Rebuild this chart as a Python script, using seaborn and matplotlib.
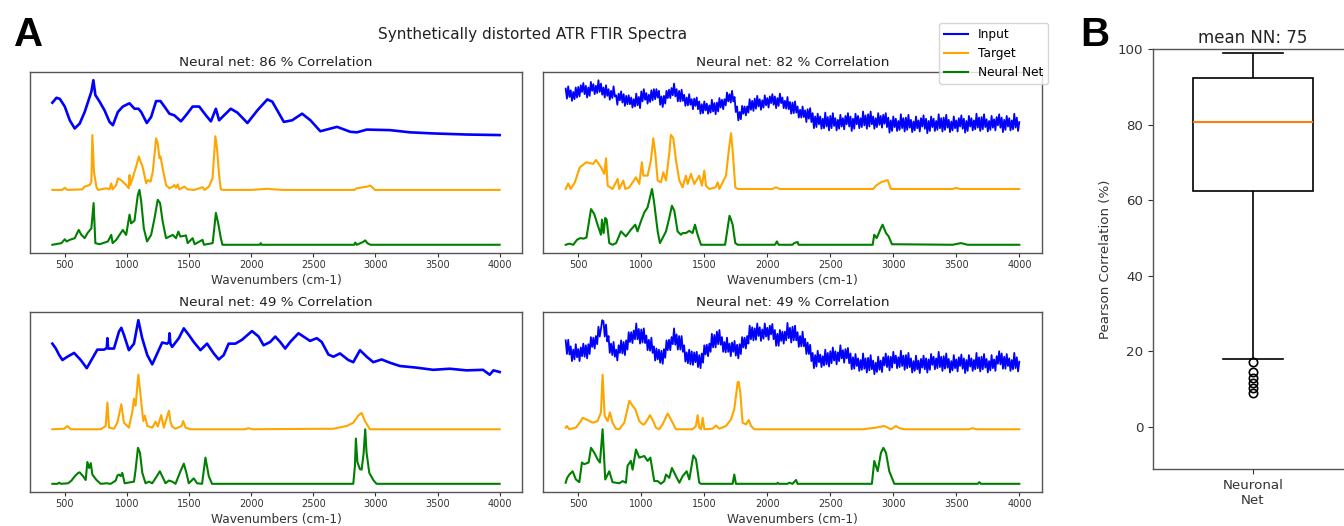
import numpy as np
import pandas as pd
import matplotlib
matplotlib.use("Agg")
import matplotlib.pyplot as plt
import seaborn as sns
from matplotlib.lines import Line2D

# ---------------- data ----------------
XTICKS = [500, 1000, 1500, 2000, 2500, 3000, 3500, 4000]
TITLES = ["Neural net: 86 % Correlation", "Neural net: 82 % Correlation",
          "Neural net: 49 % Correlation", "Neural net: 49 % Correlation"]
SERIES_NAMES = ["Input", "Target", "Neural Net"]
SERIES_COLORS = ["blue", "orange", "green"]

# sampling grid (cm-1) of the two noisy inputs
WN_GRID = list(range(400, 4001, 10))

# ---- panel 1 ----
P1_IN_X = [400, 433, 460, 500, 540, 580, 620, 660, 692, 714, 730, 746, 780, 820, 860, 887, 927, 967, 1021, 1061,
           1093, 1115, 1160, 1195, 1235, 1270, 1302, 1342, 1382, 1435, 1475, 1529, 1582, 1636, 1676, 1716, 1742, 1782, 1836, 1889,
           1970, 2050, 2130, 2170, 2263, 2330, 2410, 2477, 2557, 2691, 2798, 2851, 2931, 3118, 3279, 3466, 3733, 4000]
P1_IN_Y = [0.59, 0.68, 0.66, 0.52, 0.27, 0.12, 0.21, 0.42, 0.64, 0.79, 1.00, 0.73, 0.61, 0.45, 0.24, 0.18, 0.42, 0.52, 0.58, 0.48,
           0.48, 0.42, 0.22, 0.33, 0.62, 0.62, 0.52, 0.39, 0.36, 0.25, 0.36, 0.52, 0.52, 0.36, 0.25, 0.48, 0.27, 0.36, 0.48, 0.41,
           0.22, 0.45, 0.65, 0.61, 0.24, 0.27, 0.39, 0.27, 0.07, 0.15, 0.06, 0.05, 0.10, 0.09, 0.05, 0.03, 0.01, 0.00]
P1_TG_X = [400, 480, 500, 520, 640, 660, 700, 714, 722, 735, 754, 767, 834, 860, 874, 885, 914, 927, 954, 994,
           1015, 1021, 1028, 1050, 1061, 1074, 1096, 1109, 1123, 1141, 1155, 1168, 1190, 1208, 1222, 1235, 1248, 1262, 1270, 1288,
           1315, 1342, 1370, 1382, 1395, 1409, 1422, 1462, 1489, 1542, 1609, 1625, 1660, 1689, 1702, 1712, 1725, 1742, 1756, 1780,
           2000, 2130, 2250, 2830, 2851, 2931, 2958, 2998, 4000]
P1_TG_Y = [0.0, 0.0, 0.04, 0.0, 0.01, 0.06, 0.09, 0.15, 1.00, 0.33, 0.06, 0.0, 0.03, 0.01, 0.12, 0.01, 0.09, 0.21, 0.18, 0.09,
           0.03, 0.27, 0.09, 0.24, 0.33, 0.42, 0.61, 0.52, 0.45, 0.27, 0.12, 0.18, 0.15, 0.33, 0.64, 0.94, 0.85, 0.58, 0.61, 0.39,
           0.09, 0.03, 0.06, 0.09, 0.04, 0.10, 0.01, 0.06, 0.01, 0.0, 0.05, 0.0, 0.06, 0.21, 0.64, 0.98, 0.76, 0.27, 0.01, 0.0,
           0.0, 0.02, 0.0, 0.0, 0.03, 0.06, 0.08, 0.0, 0.0]
P1_NN_X = [400, 473, 500, 515, 540, 580, 612, 634, 660, 682, 714, 732, 746, 780, 847, 874, 885, 914, 967, 994,
           1021, 1034, 1061, 1088, 1101, 1115, 1136, 1162, 1195, 1222, 1248, 1267, 1288, 1315, 1369, 1395, 1414, 1430, 1475, 1489,
           1529, 1545, 1609, 1620, 1690, 1702, 1716, 1735, 1756, 1769, 2070, 2077, 2085, 2830, 2838, 2850, 2900, 2918, 2935, 2960, 4000]
P1_NN_Y = [0.0, 0.03, 0.10, 0.06, 0.09, 0.12, 0.27, 0.18, 0.12, 0.21, 0.30, 0.76, 0.03, 0.01, 0.06, 0.18, 0.03, 0.09, 0.27, 0.18,
           0.55, 0.39, 0.44, 0.91, 1.00, 0.79, 0.30, 0.06, 0.18, 0.48, 0.82, 0.76, 0.42, 0.12, 0.18, 0.12, 0.24, 0.15, 0.17, 0.03,
           0.12, 0.01, 0.09, 0.0, 0.03, 0.27, 0.58, 0.39, 0.12, 0.0, 0.0, 0.03, 0.0, 0.0, 0.04, 0.0, 0.05, 0.08, 0.03, 0.0, 0.0]

# ---- panel 2 (input on the 10 cm-1 grid, one row = 100 cm-1) ----
P2_IN_Y = [0.80, 0.62, 0.84, 0.65, 0.77, 0.58, 0.74, 0.61, 0.82, 0.64,
           0.83, 0.66, 0.86, 0.74, 0.90, 0.70, 0.85, 0.64, 0.82, 0.67,
           0.92, 0.76, 0.88, 0.70, 0.85, 0.72, 0.95, 0.74, 0.89, 0.69,
           0.82, 0.64, 0.86, 0.67, 0.79, 0.60, 0.76, 0.63, 0.84, 0.66,
           0.68, 0.51, 0.71, 0.59, 0.75, 0.55, 0.70, 0.49, 0.67, 0.52,
           0.68, 0.52, 0.64, 0.46, 0.61, 0.48, 0.71, 0.50, 0.65, 0.45,
           0.75, 0.57, 0.79, 0.60, 0.72, 0.53, 0.69, 0.56, 0.77, 0.59,
           0.79, 0.61, 0.79, 0.64, 0.76, 0.51, 0.66, 0.47, 0.67, 0.53,
           0.76, 0.63, 0.78, 0.63, 0.81, 0.68, 0.89, 0.66, 0.79, 0.57,
           0.76, 0.57, 0.78, 0.58, 0.69, 0.49, 0.64, 0.50, 0.70, 0.51,
           0.61, 0.43, 0.62, 0.49, 0.64, 0.43, 0.57, 0.35, 0.52, 0.36,
           0.57, 0.41, 0.53, 0.35, 0.50, 0.37, 0.60, 0.39, 0.54, 0.34,
           0.55, 0.39, 0.63, 0.46, 0.60, 0.43, 0.61, 0.50, 0.73, 0.57,
           0.70, 0.55, 0.76, 0.57, 0.65, 0.38, 0.48, 0.23, 0.38, 0.25,
           0.49, 0.35, 0.48, 0.32, 0.48, 0.37, 0.61, 0.42, 0.58, 0.40,
           0.62, 0.44, 0.67, 0.48, 0.61, 0.42, 0.59, 0.46, 0.68, 0.50,
           0.63, 0.46, 0.66, 0.54, 0.70, 0.51, 0.66, 0.45, 0.63, 0.49,
           0.71, 0.54, 0.64, 0.45, 0.58, 0.44, 0.65, 0.43, 0.56, 0.35,
           0.55, 0.36, 0.57, 0.37, 0.48, 0.28, 0.42, 0.28, 0.48, 0.29,
           0.41, 0.20, 0.43, 0.26, 0.45, 0.20, 0.36, 0.09, 0.30, 0.11,
           0.35, 0.16, 0.30, 0.08, 0.26, 0.09, 0.37, 0.12, 0.29, 0.05,
           0.31, 0.09, 0.36, 0.13, 0.27, 0.05, 0.24, 0.08, 0.33, 0.12,
           0.27, 0.07, 0.31, 0.16, 0.36, 0.12, 0.30, 0.04, 0.26, 0.08,
           0.35, 0.16, 0.31, 0.09, 0.27, 0.11, 0.39, 0.14, 0.32, 0.08,
           0.34, 0.12, 0.39, 0.16, 0.30, 0.08, 0.27, 0.11, 0.36, 0.15,
           0.31, 0.10, 0.33, 0.17, 0.36, 0.11, 0.28, 0.01, 0.23, 0.04,
           0.30, 0.11, 0.26, 0.04, 0.22, 0.06, 0.34, 0.09, 0.27, 0.03,
           0.28, 0.06, 0.33, 0.10, 0.24, 0.02, 0.21, 0.05, 0.30, 0.09,
           0.23, 0.03, 0.27, 0.12, 0.32, 0.08, 0.26, 0.00, 0.22, 0.04,
           0.30, 0.11, 0.26, 0.04, 0.22, 0.06, 0.34, 0.09, 0.27, 0.03,
           0.28, 0.06, 0.33, 0.10, 0.24, 0.02, 0.21, 0.05, 0.30, 0.09,
           0.23, 0.03, 0.27, 0.12, 0.32, 0.08, 0.26, 0.01, 0.22, 0.04,
           0.31, 0.12, 0.27, 0.05, 0.23, 0.07, 0.35, 0.10, 0.28, 0.04,
           0.29, 0.07, 0.34, 0.11, 0.25, 0.03, 0.22, 0.06, 0.31, 0.10,
           0.25, 0.05, 0.29, 0.14, 0.34, 0.10, 0.28, 0.02, 0.24, 0.06,
           0.31, 0.12, 0.27, 0.05, 0.23, 0.07, 0.35, 0.10, 0.28, 0.04,
           0.20]
P2_TG_X = [400, 420, 440, 473, 512, 565, 618, 640, 680, 706, 720, 733, 772, 812, 825, 857, 873, 905, 958, 984,
           1005, 1016, 1050, 1077, 1095, 1111, 1130, 1156, 1175, 1196, 1222, 1235, 1254, 1275, 1302, 1328, 1354, 1368, 1394, 1421,
           1460, 1481, 1500, 1513, 1540, 1590, 1606, 1620, 1672, 1698, 1712, 1725, 1746, 1765, 2040, 2069, 2100, 2840, 2862, 2902,
           2955, 2981, 3470, 3497, 3530, 4000]
P2_TG_Y = [0.0, 0.10, 0.0, 0.12, 0.39, 0.48, 0.45, 0.52, 0.39, 0.27, 0.55, 0.06, 0.0, 0.18, 0.0, 0.15, 0.0, 0.03, 0.21, 0.09,
           0.48, 0.24, 0.24, 0.52, 0.91, 0.64, 0.15, 0.12, 0.30, 0.15, 0.64, 0.97, 0.91, 0.52, 0.15, 0.03, 0.24, 0.09, 0.27, 0.09,
           0.24, 0.06, 0.33, 0.06, 0.0, 0.03, 0.12, 0.0, 0.24, 0.76, 1.00, 0.70, 0.03, 0.0, 0.0, 0.03, 0.0, 0.0, 0.06, 0.12,
           0.16, 0.0, 0.0, 0.02, 0.0, 0.0]
P2_NN_X = [400, 430, 460, 490, 516, 542, 565, 601, 627, 653, 680, 688, 701, 714, 725, 746, 772, 800, 839, 878,
           917, 952, 970, 997, 1024, 1050, 1069, 1085, 1100, 1130, 1148, 1169, 1196, 1222, 1243, 1262, 1288, 1315, 1328, 1354,
           1381, 1407, 1426, 1447, 1474, 1665, 1700, 1712, 1725, 1746, 1765, 2060, 2069, 2076, 2083, 2090, 2200, 2214, 2240, 2248,
           2836, 2849, 2868, 2902, 2915, 2942, 2963, 2989, 3470, 3537, 3590, 4000]
P2_NN_Y = [0.0, 0.02, 0.0, 0.09, 0.12, 0.11, 0.13, 0.64, 0.55, 0.36, 0.18, 0.45, 0.21, 0.48, 0.45, 0.03, 0.0, 0.03, 0.24, 0.15,
           0.27, 0.36, 0.24, 0.42, 0.58, 0.67, 0.85, 1.00, 0.79, 0.24, 0.03, 0.12, 0.24, 0.48, 0.70, 0.61, 0.24, 0.18, 0.21, 0.21,
           0.25, 0.21, 0.36, 0.18, 0.0, 0.0, 0.52, 0.45, 0.36, 0.03, 0.0, 0.0, 0.03, 0.06, 0.03, 0.0, 0.0, 0.03, 0.05, 0.0,
           0.0, 0.18, 0.12, 0.30, 0.36, 0.21, 0.15, 0.01, 0.0, 0.03, 0.0, 0.0]

# ---- panel 3 ----
P3_IN_X = [400, 428, 455, 481, 521, 575, 628, 677, 722, 762, 816, 838, 843, 849, 896, 936, 955, 976, 1016, 1057,
           1092, 1123, 1164, 1204, 1244, 1284, 1324, 1338, 1343, 1350, 1364, 1418, 1458, 1498, 1538, 1592, 1645, 1699, 1739, 1779,
           1819, 1873, 1926, 2007, 2060, 2100, 2153, 2194, 2234, 2274, 2314, 2381, 2421, 2474, 2528, 2568, 2622, 2662, 2715, 2782,
           2822, 2876, 2930, 2983, 3050, 3117, 3197, 3331, 3465, 3599, 3733, 3866, 3920, 3950, 4000]
P3_IN_Y = [0.57, 0.48, 0.36, 0.27, 0.33, 0.40, 0.27, 0.12, 0.30, 0.46, 0.46, 0.49, 0.67, 0.48, 0.48, 0.79, 0.86, 0.73, 0.45, 0.57,
           1.00, 0.67, 0.36, 0.19, 0.39, 0.59, 0.57, 0.60, 0.76, 0.57, 0.51, 0.67, 0.85, 0.73, 0.60, 0.45, 0.57, 0.39, 0.28, 0.36,
           0.57, 0.57, 0.64, 0.80, 0.70, 0.54, 0.60, 0.70, 0.60, 0.48, 0.60, 0.76, 0.70, 0.62, 0.67, 0.60, 0.37, 0.33, 0.39, 0.27,
           0.23, 0.45, 0.33, 0.23, 0.28, 0.22, 0.16, 0.13, 0.09, 0.11, 0.08, 0.09, 0.00, 0.08, 0.05]
P3_TG_X = [400, 495, 521, 548, 789, 829, 843, 856, 896, 923, 955, 976, 1016, 1043, 1057, 1070, 1092, 1110, 1132, 1145,
           1164, 1204, 1231, 1249, 1276, 1297, 1338, 1352, 1365, 1391, 1440, 1453, 1472, 1512, 1950, 1978, 2010, 2662, 2769, 2822,
           2862, 2889, 2916, 2956, 4000]
P3_TG_Y = [0.0, 0.01, 0.06, 0.0, 0.0, 0.06, 0.49, 0.03, 0.01, 0.12, 0.46, 0.12, 0.03, 0.31, 0.56, 0.43, 1.00, 0.62, 0.15, 0.25,
           0.06, 0.03, 0.14, 0.05, 0.26, 0.03, 0.34, 0.12, 0.05, 0.01, 0.06, 0.15, 0.03, 0.0, 0.0, 0.02, 0.0, 0.01, 0.06, 0.12,
           0.25, 0.30, 0.15, 0.0, 0.0]
P3_NN_X = [400, 440, 455, 470, 527, 554, 581, 608, 620, 647, 668, 682, 696, 709, 722, 755, 789, 837, 870, 910,
           923, 936, 950, 963, 982, 1057, 1070, 1089, 1105, 1124, 1150, 1177, 1204, 1244, 1265, 1284, 1311, 1338, 1365, 1391,
           1431, 1458, 1479, 1498, 1538, 1565, 1605, 1632, 1659, 1685, 2822, 2835, 2843, 2855, 2875, 2889, 2905, 2918, 2929, 2951,
           2983, 3009, 4000]
P3_NN_Y = [0.0, 0.0, 0.02, 0.0, 0.01, 0.06, 0.14, 0.20, 0.21, 0.14, 0.07, 0.40, 0.29, 0.38, 0.17, 0.07, 0.0, 0.01, 0.0, 0.06,
           0.15, 0.17, 0.14, 0.20, 0.01, 0.04, 0.26, 0.66, 0.57, 0.20, 0.01, 0.04, 0.01, 0.15, 0.23, 0.14, 0.01, 0.06, 0.04, 0.0,
           0.23, 0.37, 0.20, 0.01, 0.10, 0.01, 0.0, 0.48, 0.14, 0.0, 0.0, 0.32, 0.83, 0.40, 0.27, 0.26, 0.55, 1.00, 0.57, 0.20,
           0.07, 0.0, 0.0]

# ---- panel 4 (input on the 10 cm-1 grid, one row = 100 cm-1) ----
P4_IN_Y = [0.63, 0.38, 0.64, 0.37, 0.52, 0.25, 0.46, 0.28, 0.56, 0.32,
           0.47, 0.25, 0.50, 0.34, 0.57, 0.33, 0.54, 0.30, 0.56, 0.38,
           0.69, 0.51, 0.68, 0.48, 0.71, 0.56, 0.88, 0.70, 0.84, 1.00,
           0.98, 0.70, 0.92, 0.61, 0.71, 0.40, 0.57, 0.36, 0.60, 0.33,
           0.46, 0.26, 0.54, 0.40, 0.63, 0.39, 0.60, 0.36, 0.63, 0.46,
           0.78, 0.60, 0.78, 0.58, 0.81, 0.65, 0.94, 0.65, 0.84, 0.57,
           0.83, 0.59, 0.85, 0.58, 0.72, 0.45, 0.64, 0.44, 0.68, 0.40,
           0.52, 0.26, 0.48, 0.28, 0.46, 0.22, 0.44, 0.20, 0.47, 0.31,
           0.63, 0.45, 0.64, 0.45, 0.69, 0.56, 0.85, 0.55, 0.74, 0.46,
           0.71, 0.46, 0.71, 0.42, 0.54, 0.24, 0.41, 0.21, 0.46, 0.19,
           0.43, 0.18, 0.41, 0.23, 0.42, 0.14, 0.36, 0.12, 0.39, 0.22,
           0.54, 0.37, 0.55, 0.34, 0.57, 0.42, 0.75, 0.50, 0.73, 0.50,
           0.79, 0.56, 0.82, 0.55, 0.69, 0.42, 0.60, 0.41, 0.68, 0.42,
           0.57, 0.34, 0.59, 0.42, 0.62, 0.35, 0.55, 0.30, 0.56, 0.38,
           0.69, 0.50, 0.68, 0.48, 0.71, 0.57, 0.90, 0.65, 0.87, 0.63,
           0.85, 0.64, 0.94, 0.71, 0.87, 0.62, 0.83, 0.66, 0.94, 0.70,
           0.86, 0.64, 0.90, 0.74, 0.93, 0.65, 0.82, 0.53, 0.75, 0.53,
           0.82, 0.62, 0.79, 0.57, 0.79, 0.63, 0.95, 0.67, 0.86, 0.59,
           0.88, 0.63, 0.90, 0.63, 0.78, 0.51, 0.71, 0.52, 0.79, 0.52,
           0.66, 0.38, 0.59, 0.38, 0.55, 0.25, 0.40, 0.12, 0.36, 0.15,
           0.44, 0.23, 0.37, 0.14, 0.34, 0.17, 0.46, 0.19, 0.40, 0.15,
           0.43, 0.21, 0.50, 0.26, 0.43, 0.19, 0.41, 0.25, 0.54, 0.30,
           0.45, 0.22, 0.47, 0.30, 0.49, 0.21, 0.39, 0.10, 0.32, 0.11,
           0.38, 0.16, 0.30, 0.07, 0.27, 0.09, 0.39, 0.11, 0.30, 0.04,
           0.31, 0.08, 0.36, 0.10, 0.26, 0.01, 0.22, 0.05, 0.33, 0.09,
           0.26, 0.05, 0.32, 0.17, 0.39, 0.14, 0.34, 0.08, 0.33, 0.13,
           0.42, 0.21, 0.35, 0.12, 0.32, 0.14, 0.44, 0.16, 0.35, 0.09,
           0.36, 0.12, 0.40, 0.14, 0.30, 0.04, 0.25, 0.07, 0.35, 0.10,
           0.26, 0.03, 0.29, 0.13, 0.35, 0.10, 0.30, 0.04, 0.28, 0.09,
           0.38, 0.18, 0.33, 0.10, 0.30, 0.12, 0.42, 0.14, 0.33, 0.07,
           0.34, 0.11, 0.39, 0.13, 0.29, 0.04, 0.25, 0.08, 0.36, 0.12,
           0.28, 0.06, 0.32, 0.16, 0.37, 0.11, 0.30, 0.03, 0.27, 0.07,
           0.36, 0.15, 0.30, 0.07, 0.27, 0.10, 0.40, 0.12, 0.32, 0.06,
           0.33, 0.10, 0.38, 0.13, 0.29, 0.04, 0.25, 0.08, 0.36, 0.12,
           0.28, 0.07, 0.34, 0.20, 0.43, 0.19, 0.39, 0.11, 0.33, 0.11,
           0.38, 0.16, 0.30, 0.07, 0.27, 0.10, 0.40, 0.12, 0.32, 0.06,
           0.24]
P4_TG_X = [400, 410, 429, 481, 521, 534, 574, 614, 653, 680, 693, 709, 733, 751, 772, 799, 825, 865, 905, 931,
           952, 984, 1011, 1024, 1050, 1069, 1095, 1116, 1143, 1169, 1209, 1235, 1275, 1407, 1434, 1447, 1460, 1474, 1487, 1500,
           1566, 1593, 1619, 1672, 1712, 1738, 1765, 1773, 1786, 1804, 1831, 1852, 1871, 1897, 2757, 2862, 2929, 2981, 3021, 3048,
           3090, 3600, 3630, 3660, 4000]
P4_TG_Y = [0.03, 0.06, 0.0, 0.03, 0.15, 0.21, 0.17, 0.12, 0.15, 0.31, 1.00, 0.25, 0.15, 0.31, 0.12, 0.01, 0.0, 0.12, 0.52, 0.43,
           0.37, 0.15, 0.09, 0.09, 0.18, 0.26, 0.15, 0.03, 0.0, 0.09, 0.29, 0.18, 0.0, 0.0, 0.06, 0.26, 0.03, 0.0, 0.21, 0.0,
           0.01, 0.07, 0.01, 0.06, 0.18, 0.37, 0.86, 0.87, 0.67, 0.12, 0.09, 0.17, 0.06, 0.0, 0.0, 0.03, 0.06, 0.0, 0.06, 0.02,
           0.0, 0.0, 0.02, 0.0, 0.0]
P4_NN_X = [400, 412, 429, 455, 481, 508, 529, 547, 582, 601, 627, 653, 672, 693, 714, 746, 772, 825, 852, 878,
           891, 917, 931, 958, 984, 1024, 1050, 1072, 1103, 1130, 1156, 1182, 1196, 1222, 1243, 1275, 1302, 1328, 1360, 1381,
           1413, 1434, 1460, 1474, 1725, 1738, 1751, 2075, 2083, 2090, 2160, 2175, 2200, 2228, 2240, 2830, 2849, 2876, 2902, 2921,
           2942, 2968, 3008, 3670, 3683, 3695, 4000]
P4_NN_Y = [0.02, 0.11, 0.17, 0.23, 0.08, 0.03, 0.39, 0.36, 0.39, 0.66, 0.57, 0.45, 0.39, 1.00, 0.08, 0.23, 0.03, 0.01, 0.05, 0.02,
           0.33, 0.42, 0.26, 0.63, 0.48, 0.51, 0.42, 0.48, 0.05, 0.05, 0.0, 0.05, 0.17, 0.11, 0.29, 0.14, 0.02, 0.14, 0.23, 0.08,
           0.52, 0.45, 0.02, 0.0, 0.0, 0.17, 0.0, 0.0, 0.02, 0.0, 0.0, 0.02, 0.0, 0.07, 0.0, 0.0, 0.42, 0.23, 0.57, 0.66,
           0.57, 0.23, 0.0, 0.0, 0.03, 0.0, 0.0]

# ---- panel B: Pearson correlation of the network on the test spectra (%) ----
BOX_CATEGORY = "Neuronal\nNet"
CORR_VALUES = [9.0, 10.2, 11.6, 13.1, 14.6, 17.3, 18.0, 30.0, 45.0, 55.0,
               62.55, 66.0, 69.0, 71.0, 73.0, 75.0, 76.5, 78.0, 79.0, 80.0,
               80.7, 82.0, 83.5, 85.0, 86.0, 87.5, 88.5, 89.5, 90.5, 91.5,
               92.33, 93.0, 94.0, 94.5, 95.0, 96.0, 96.5, 97.0, 97.5, 98.0, 99.0]
MEAN_NN = 75

PANELS = [
    (P1_IN_X, P1_IN_Y, P1_TG_X, P1_TG_Y, P1_NN_X, P1_NN_Y),
    (WN_GRID, P2_IN_Y, P2_TG_X, P2_TG_Y, P2_NN_X, P2_NN_Y),
    (P3_IN_X, P3_IN_Y, P3_TG_X, P3_TG_Y, P3_NN_X, P3_NN_Y),
    (WN_GRID, P4_IN_Y, P4_TG_X, P4_TG_Y, P4_NN_X, P4_NN_Y),
]
NOISY = [False, True, False, True]

# ---------------- figure ----------------
W, H = 1344, 526
fig = plt.figure(figsize=(W / 100, H / 100), dpi=100)


def add_axes_px(left, top, right, bottom):
    return fig.add_axes([left / W, 1 - bottom / H, (right - left) / W, (bottom - top) / H])


boxes = [(30, 72, 522, 253), (543, 72, 1042, 253), (30, 312, 522, 492), (543, 312, 1042, 492)]
OFFSETS = [2.0, 1.0, 0.0]  # input on top, target middle, network bottom

for (l, t, r, b), title, panel, noisy in zip(boxes, TITLES, PANELS, NOISY):
    ax = add_axes_px(l, t, r, b)
    in_x, in_y, tg_x, tg_y, nn_x, nn_y = panel
    curves = [(in_x, in_y), (tg_x, tg_y), (nn_x, nn_y)]
    for i, ((xs, ys), off, col) in enumerate(zip(curves, OFFSETS, SERIES_COLORS)):
        lw = 1.5
        if i == 0:
            lw = 1.3 if noisy else 1.9
        sns.lineplot(x=xs, y=np.asarray(ys) + off, ax=ax, color=col, linewidth=lw,
                     estimator=None, sort=False)
    ax.set_xticks(XTICKS)
    ax.set_yticks([])
    ax.set_ylabel("")
    ax.tick_params(axis="x", labelsize=7, length=3, pad=2, colors="#333333")
    ax.set_xlabel("Wavenumbers (cm-1)", fontsize=8.7, color="#333333", labelpad=3)
    ax.set_title(title, fontsize=9.7, pad=4, color="#222222")
    for s in ax.spines.values():
        s.set_color("#555555")
        s.set_linewidth(1.0)

# legend
handles = [Line2D([], [], color=c, linewidth=1.5) for c in SERIES_COLORS]
fig.legend(handles, SERIES_NAMES, loc="upper right", bbox_to_anchor=(1048 / W, 1 - 23 / H),
           fontsize=8.7, framealpha=0.8, borderaxespad=0.0)

# suptitle and panel letters
fig.text(533 / W, 1 - 35 / H, "Synthetically distorted ATR FTIR Spectra", ha="center", va="center",
         fontsize=11, color="#222222")
fig.text(29 / W, 1 - 35 / H, "A", ha="center", va="center", fontsize=29, fontweight="bold",
         family="Liberation Sans")
fig.text(1095 / W, 1 - 35 / H, "B", ha="center", va="center", fontsize=29, fontweight="bold",
         family="Liberation Sans")

# boxplot
axb = add_axes_px(1153, 49, 1353, 469)
box_df = pd.DataFrame({"model": [BOX_CATEGORY] * len(CORR_VALUES), "corr": CORR_VALUES})
sns.boxplot(data=box_df, x="model", y="corr", ax=axb, width=0.6, color="white", linecolor="black",
            linewidth=1.2, saturation=1,
            medianprops=dict(color="#ff7f0e", linewidth=1.5),
            flierprops=dict(marker="o", markerfacecolor="none", markeredgecolor="black",
                            markersize=6, markeredgewidth=1.2))
axb.set_xlim(-0.5, 0.5)
axb.set_ylim(-11.1, 100)
axb.set_yticks([0, 20, 40, 60, 80, 100])
axb.tick_params(labelsize=9.6, colors="#333333")
axb.set_xlabel("")
axb.set_ylabel("Pearson Correlation (%)", fontsize=9.6, color="#333333")
axb.set_title(f"mean NN: {MEAN_NN}", fontsize=12, pad=4, color="#222222")
for s in axb.spines.values():
    s.set_color("#555555")
    s.set_linewidth(1.0)

fig.savefig("out.png", dpi=100)
